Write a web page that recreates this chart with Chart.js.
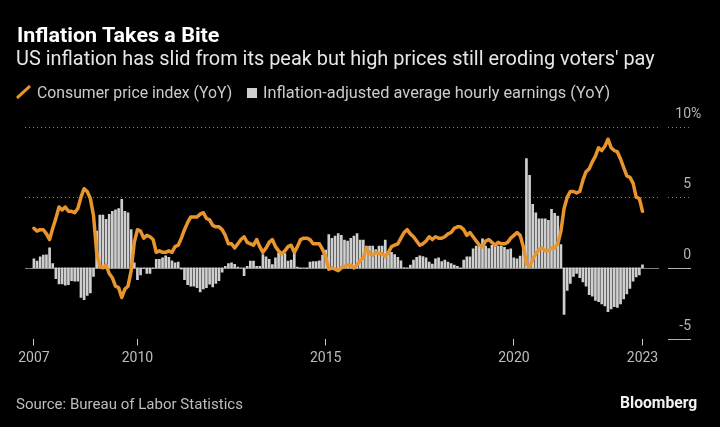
<!DOCTYPE html>
<html><head><meta charset="utf-8">
<script src="https://cdn.jsdelivr.net/npm/chart.js@4/dist/chart.umd.min.js"></script>
<style>
html,body{margin:0;padding:0;background:#000;overflow:hidden;}
#wrap{position:relative;width:720px;height:427px;background:#000;overflow:hidden;}
canvas{position:absolute;left:0;top:0;}
.t{position:absolute;top:0;white-space:nowrap;transform-origin:0 0;line-height:normal;font-family:'Liberation Sans Narrow','Roboto','Liberation Sans',sans-serif;}
.s{display:inline-block;}
.p{display:inline-block;width:0;height:0;vertical-align:baseline;}
#slash{position:absolute;left:21.8px;top:83.2px;width:3px;height:18px;background:#e8952e;transform:rotate(47deg);border-radius:1px;}
#sq{position:absolute;left:247px;top:88px;width:10px;height:10px;background:#cfcfcf;}
</style></head><body>
<div id="wrap">
<canvas id="c" width="720" height="427"></canvas>
<div class="t" id="title" style="font-size:20px;font-weight:bold;color:#fff;"><span class="s">Inflation Takes a Bite</span><span class="p"></span></div>
<div class="t" id="sub" style="font-size:20px;color:#e6e6e6;"><span class="s">US inflation has slid from its peak but high prices still eroding voters' pay</span><span class="p"></span></div>
<div id="slash"></div>
<div class="t" id="leg1" style="font-size:17px;color:#cccccc;"><span class="s">Consumer price index (YoY)</span><span class="p"></span></div>
<div id="sq"></div>
<div class="t" id="leg2" style="font-size:17px;color:#cccccc;"><span class="s">Inflation-adjusted average hourly earnings (YoY)</span><span class="p"></span></div>
<div class="t" id="src" style="font-size:15px;color:#bdbdbd;"><span class="s">Source: Bureau of Labor Statistics</span><span class="p"></span></div>
<div class="t" id="bbg" style="font-size:17px;font-weight:bold;color:#f2f2f2;"><span class="s">Bloomberg</span><span class="p"></span></div>
</div>
<script>
// ---- DATA ----
const START_MONTH = '2007-03'; // first monthly observation
// CPI YoY %, Mar 2007 .. May 2023
const cpi = [
 2.8,2.6,2.7,2.7,2.4,2.0,2.8,3.5,4.3,4.1,
 4.3,4.0,4.0,3.9,4.2,5.0,5.6,5.4,4.9,3.7,1.1,0.1,
 0.0,0.2,-0.4,-0.7,-1.3,-1.4,-2.1,-1.5,-1.3,-0.2,1.8,2.7,
 2.6,2.1,2.3,2.2,2.0,1.1,1.2,1.1,1.1,1.2,1.1,1.5,
 1.6,2.1,2.7,3.2,3.6,3.6,3.6,3.8,3.9,3.5,3.4,3.0,
 2.9,2.9,2.7,2.3,1.7,1.7,1.4,1.7,2.0,2.2,1.8,1.7,
 1.6,2.0,1.5,1.1,1.4,1.8,2.0,1.5,1.2,1.0,1.2,1.5,
 1.6,1.1,1.5,2.0,2.1,2.1,2.0,1.7,1.7,1.7,1.3,0.8,
 -0.1,0.0,-0.1,-0.2,0.0,0.1,0.2,0.2,0.0,0.2,0.5,0.7,
 1.4,1.0,0.9,1.1,1.0,1.0,0.8,1.1,1.5,1.6,1.7,2.1,
 2.5,2.7,2.4,2.2,1.9,1.6,1.7,1.9,2.2,2.0,2.2,2.1,
 2.1,2.2,2.4,2.5,2.8,2.9,2.9,2.7,2.3,2.5,2.2,1.9,
 1.6,1.5,1.9,2.0,1.8,1.6,1.8,1.7,1.7,1.8,2.1,2.3,
 2.5,2.3,1.5,0.3,0.1,0.6,1.0,1.3,1.4,1.2,1.2,1.4,
 1.4,1.7,2.6,4.2,5.0,5.4,5.4,5.3,5.4,6.2,6.8,7.0,
 7.5,7.9,8.5,8.3,8.6,9.1,8.5,8.3,8.2,7.7,7.1,6.5,
 6.4,6.0,5.0,4.9,4.0
];
// Inflation-adjusted average hourly earnings YoY %, Mar 2007 .. May 2023
const realEarnings = [
 0.64,0.47,0.78,0.9,0.92,1.42,0.3,-0.76,-1.13,-1.13,
 -1.23,-1.2,-0.9,-0.95,-0.95,-2.1,-2.25,-1.95,-1.77,-0.6,2.6,3.73,
 3.73,3.43,3.78,4.0,4.1,4.2,4.85,4.0,3.9,2.7,0.35,-0.83,
 -0.5,-0.05,-0.4,-0.4,-0.05,0.6,0.6,0.7,0.85,0.75,0.5,0.35,
 0.4,-0.1,-0.83,-1.2,-1.3,-1.3,-1.4,-1.7,-1.5,-1.4,-1.15,-1.35,
 -1.1,-0.9,-0.3,0.1,0.3,0.35,0.25,0.05,0.0,-0.55,0.1,0.47,
 0.47,0.1,0.1,0.94,0.78,0.6,0.23,0.7,1.06,1.06,1.0,0.47,
 0.54,1.06,0.05,-0.05,0.0,-0.05,0.4,0.45,0.45,0.5,0.9,1.25,
 2.36,2.08,2.24,2.43,2.3,1.96,1.9,2.08,2.24,2.43,1.96,1.96,
 1.54,1.54,1.54,1.3,1.54,1.54,1.96,1.1,1.1,0.94,0.75,0.5,
 0.02,-0.03,0.2,0.55,0.75,0.85,0.8,0.7,0.4,0.27,0.64,0.7,
 0.45,0.54,0.4,0.3,0.2,0.1,-0.05,0.55,0.78,0.78,1.35,1.54,
 1.6,2.06,1.54,1.37,1.6,1.54,1.54,1.54,1.45,1.3,1.35,0.7,
 0.64,0.83,1.42,7.73,6.55,4.5,3.9,3.47,3.47,3.47,3.36,4.14,
 3.85,3.66,1.65,-3.3,-1.6,-1.1,-0.6,-0.4,-0.7,-1.0,-1.3,-1.9,
 -2.0,-2.3,-2.4,-2.55,-2.7,-3.1,-2.9,-2.75,-2.8,-2.55,-2.2,-1.85,
 -1.45,-0.95,-0.65,-0.5,0.22
];
// x-axis ticks: label and the month boundary (start of month) where it sits
const xTickLabels = ['2007','2010','2015','2020','2023'];
const xTickMonths = ['2007-04','2010-01','2015-01','2020-01','2023-06'];
// y-axis ticks
const yTickValues = [-5,0,5,10];

// ---- helpers ----
function monthsSince(a,b){const [ya,ma]=a.split('-').map(Number);const [yb,mb]=b.split('-').map(Number);return (yb-ya)*12+(mb-ma);}
// observation i is dated at month end = start of following month => x = i+1
const cpiPts = cpi.map((v,i)=>({x:i+1,y:v}));
const wagePts = realEarnings.map((v,i)=>({x:i+1,y:v}));
const xTickPos = xTickMonths.map(m=>monthsSince(START_MONTH,m));

const TICKFONT = "Roboto, 'Liberation Sans', sans-serif";
const ORANGE = '#e8952e';

const bbgAxis = {
  id:'bbgAxis',
  beforeDatasetsDraw(chart){
    const {ctx, chartArea:a, scales:{y}} = chart;
    ctx.save();
    ctx.lineWidth = 1;
    for (const v of yTickValues){
      const py = Math.round(y.getPixelForValue(v)) + 0.5;
      if (v === 0){
        ctx.setLineDash([]); ctx.strokeStyle = '#808080';
      } else if (v > 0){
        ctx.setLineDash([1,3]); ctx.strokeStyle = '#808080';
      } else continue;
      ctx.beginPath(); ctx.moveTo(a.left, py); ctx.lineTo(a.right, py); ctx.stroke();
    }
    ctx.restore();
  },
  afterDraw(chart){
    const {ctx, chartArea:a, scales:{y}} = chart;
    ctx.save();
    ctx.lineWidth = 1;
    const x0 = a.right + 9, x1 = a.right + 32;
    ctx.font = '14px ' + TICKFONT;
    ctx.fillStyle = '#b5b5b5';
    ctx.textBaseline = 'alphabetic';
    const top = Math.max(...yTickValues);
    for (const v of yTickValues){
      const py = Math.round(y.getPixelForValue(v)) + 0.5;
      if (v > 0){ ctx.setLineDash([1,3]); ctx.strokeStyle = '#808080'; }
      else { ctx.setLineDash([]); ctx.strokeStyle = '#b0b0b0'; }
      ctx.beginPath(); ctx.moveTo(x0, py); ctx.lineTo(x1, py); ctx.stroke();
      ctx.textAlign = 'right';
      ctx.fillText(String(v), x1, py - 10);
      if (v === top){ ctx.textAlign = 'left'; ctx.fillText('%', x1, py - 10); }
    }
    ctx.restore();
  }
};

new Chart(document.getElementById('c'), {
  type:'bar',
  data:{
    datasets:[
      {type:'line', label:'Consumer price index (YoY)', data:cpiPts, borderColor:ORANGE, borderWidth:3.5,
       pointRadius:0, tension:0, borderJoinStyle:'round', borderCapStyle:'round', order:0},
      {type:'bar', label:'Inflation-adjusted average hourly earnings (YoY)', data:wagePts,
       backgroundColor:'#cfcfcf', barThickness:2, order:1}
    ]
  },
  options:{
    responsive:false, animation:false, devicePixelRatio:1,
    layout:{padding:{left:25, right:0, top:126.5, bottom:0}},
    plugins:{legend:{display:false}, tooltip:{enabled:false}, title:{display:false}},
    scales:{
      x:{
        type:'linear', offset:false, min:-1.84, max:200.26,
        afterBuildTicks:s=>{ s.ticks = xTickPos.map(v=>({value:v})); },
        ticks:{ callback:(v,i)=>xTickLabels[i], color:'#bdbdbd', font:{size:14, family:TICKFONT},
                padding:5, maxRotation:0, minRotation:0, autoSkip:false },
        grid:{ offset:false, drawOnChartArea:false, drawTicks:true, tickLength:7, tickColor:'#c8c8c8', tickWidth:1 },
        border:{display:false},
        afterFit:s=>{ s.height = 88.5; }
      },
      y:{
        position:'right', min:-5, max:10,
        afterBuildTicks:s=>{ s.ticks = yTickValues.map(v=>({value:v})); },
        ticks:{display:false},
        grid:{display:false, drawTicks:false},
        border:{display:false},
        afterFit:s=>{ s.width = 61; }
      }
    }
  },
  plugins:[bbgAxis]
});

// ---- text placement: left x, baseline y, target width ----
const TEXTS = [
  {id:'title', x:16.7, base:41.7, w:203},
  {id:'sub',   x:16.3, base:65,   w:639},
  {id:'leg1',  x:36.7, base:98.3, w:195},
  {id:'leg2',  x:263.3,base:98.3, w:347},
  {id:'src',   x:16,   base:409.3,w:226.5},
  {id:'bbg',   x:620,  base:408.3,w:77.5}
];
function placeTexts(){
  for (const t of TEXTS){
    const el = document.getElementById(t.id);
    const s = el.querySelector('.s'), p = el.querySelector('.p');
    el.style.transform = 'none';
    el.style.left = t.x + 'px';
    el.style.top = '0px';
    const w = s.offsetWidth;
    el.style.transform = 'scaleX(' + (t.w / w) + ')';
    el.style.top = (t.base - p.offsetTop) + 'px';
  }
}
placeTexts();
if (document.fonts && document.fonts.ready) document.fonts.ready.then(placeTexts);
</script>
</body></html>
